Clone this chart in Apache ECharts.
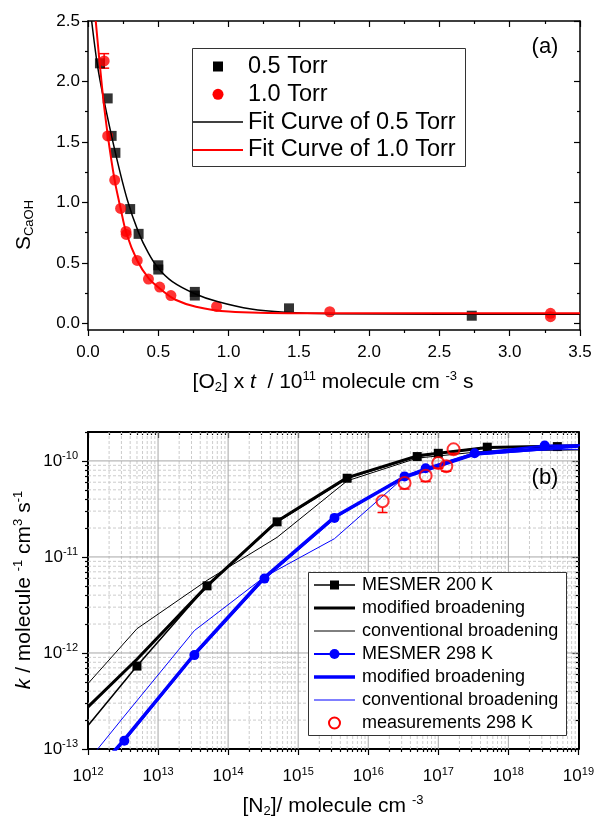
<!DOCTYPE html>
<html><head><meta charset="utf-8">
<script src="https://cdn.jsdelivr.net/npm/echarts@6/dist/echarts.min.js"></script>
<style>html,body{margin:0;padding:0;background:#fff}#c{width:597px;height:827px}</style>
</head><body><div id="c"></div>
<script>
const FONT = '"Liberation Sans", Arial, sans-serif';

// ---------- panel (a): S_CaOH vs [O2] x t ----------
const torr05 = [[0.085,2.15],[0.14,1.86],[0.168,1.55],[0.195,1.41],[0.30,0.945],[0.36,0.74],[0.50,0.48],[0.50,0.445],[0.76,0.26],[0.76,0.23],[1.43,0.124],[2.73,0.063]];
const torr10 = [[0.115,2.17],[0.14,1.55],[0.19,1.185],[0.232,0.95],[0.27,0.76],[0.272,0.735],[0.35,0.52],[0.43,0.366],[0.51,0.30],[0.59,0.23],[0.915,0.14],[1.72,0.096],[3.29,0.083],[3.29,0.055]];
const torr10Err = [[0.115,2.11,2.23]];
const fit05 = [[0.026,2.5],[0.065,2.15],[0.109,1.87],[0.195,1.41],[0.28,1.02],[0.36,0.75],[0.43,0.58],[0.5,0.455],[0.6,0.345],[0.76,0.245],[0.92,0.18],[1.16,0.118],[1.4,0.092],[1.75,0.08],[2.5,0.076],[3.5,0.076]];
const fit10 = [[0.055,2.5],[0.1,1.95],[0.14,1.56],[0.19,1.18],[0.232,0.95],[0.273,0.745],[0.35,0.52],[0.432,0.372],[0.524,0.275],[0.622,0.195],[0.768,0.138],[1.0,0.098],[1.5,0.084],[3.5,0.083]];
const xTicksA = [0,0.5,1,1.5,2,2.5,3,3.5];
const xMinorA = [0.25,0.75,1.25,1.75,2.25,2.75,3.25];
const yTicksA = [0,0.5,1,1.5,2,2.5];
const yMinorA = [0.25,0.75,1.25,1.75,2.25];
const legendA = ['0.5 Torr','1.0 Torr','Fit Curve of 0.5 Torr','Fit Curve of 1.0 Torr'];

// ---------- panel (b): k vs [N2] ----------
const mesmer200 = [[5e11,9.5e-14],[5e12,7.3e-13],[5e13,5.0e-12],[5e14,2.32e-11],[5e15,6.6e-11],[5e16,1.11e-10],[1e17,1.2e-10],[5e17,1.39e-10],[5e18,1.41e-10],[5e19,1.44e-10]];
const modified200 = [[1e12,2.75e-13],[5e12,8.6e-13],[5e13,5.0e-12],[5e14,2.35e-11],[5e15,6.7e-11],[5e16,1.13e-10],[5e17,1.38e-10],[1e19,1.44e-10]];
const conventional200 = [[1e12,4.8e-13],[5e12,1.79e-12],[5e13,5.7e-12],[5e14,1.6e-11],[5e15,6.2e-11],[5e16,1.07e-10],[5e17,1.27e-10],[1e19,1.3e-10]];
const mesmer298 = [[3.3e11,1.6e-14],[3.3e12,1.22e-13],[3.3e13,9.5e-13],[3.3e14,5.95e-12],[3.3e15,2.55e-11],[3.3e16,6.9e-11],[6.6e16,8.4e-11],[3.3e17,1.2e-10],[3.3e18,1.45e-10],[3.3e19,1.46e-10]];
const modified298 = [[1e12,4.7e-14],[3.3e12,1.25e-13],[3.3e13,9.7e-13],[3.3e14,6.1e-12],[3.3e15,2.6e-11],[3.3e16,6.8e-11],[3.3e17,1.18e-10],[1e19,1.43e-10]];
const conventional298 = [[1e12,7.5e-14],[3.3e12,2.2e-13],[3.3e13,1.71e-12],[3.3e14,6.2e-12],[3.3e15,1.55e-11],[3.3e16,6.8e-11],[3.3e17,1.15e-10],[3.3e18,1.3e-10],[1e19,1.32e-10]];
const measN = [1.6e16,3.3e16,6.6e16,1.0e17,1.3e17,1.65e17];
const measK = [3.8e-11,5.9e-11,7.0e-11,9.5e-11,8.8e-11,1.32e-10];
const measLow = [2.9e-11,5.1e-11,6.1e-11,8.4e-11,7.8e-11,1.2e-10];
const legendB = ['MESMER 200 K','modified broadening','conventional broadening','MESMER 298 K','modified broadening','conventional broadening','measurements 298 K'];
const xDecadesB = [12,13,14,15,16,17,18,19];
const yDecadesB = [-13,-12,-11,-10];
const minorMult = [2,3,4,5,6,7,8,9];
const xMinB = 1e12, xMaxB = 1e19, yMinB = 1e-13, yMaxB = 2e-10;

// tick / grid positions
const xMinorB = [], yMinorB = [], xMinorVals = [], yMinorVals = [];
xDecadesB.slice(0,-1).forEach(e => minorMult.forEach(m => { xMinorB.push(e + Math.log10(m)); xMinorVals.push(m * Math.pow(10, e)); }));
yDecadesB.forEach(e => minorMult.forEach(m => { const v = m * Math.pow(10, e); if (v <= yMaxB * 1.0001) { yMinorB.push(e + Math.log10(m)); yMinorVals.push(v); } }));
const xMajorVals = xDecadesB.slice(1,-1).map(e => Math.pow(10, e));
const yMajorVals = yDecadesB.slice(1).map(e => Math.pow(10, e));

function tickAxis(o, lineW, values, len, inside, lineShow) {
  return Object.assign({
    axisLine:{show:lineShow,onZero:false,lineStyle:{color:'#000',width:lineW}},
    axisTick:{show:true,inside:inside,length:len,customValues:values,lineStyle:{color:'#000',width:1.2}},
    axisLabel:{show:false},splitLine:{show:false}
  }, o);
}
const supRich = {
  b:{fontSize:17,fontFamily:FONT,color:'#000'},
  s:{fontSize:11,fontFamily:FONT,color:'#000',padding:[0,0,10,0]}
};
function logLabel(v) {
  const l = Math.log10(v), e = Math.round(l);
  if (Math.abs(l - e) > 1e-6) return '';
  return '{b|10}{s|' + e + '}';
}

const xAxes = [
  {type:'value',gridIndex:0,min:0,max:3.5,position:'bottom',
   axisLine:{show:true,onZero:false,lineStyle:{color:'#000',width:1.5}},
   axisTick:{show:true,length:6,customValues:xTicksA,lineStyle:{color:'#000',width:1.2}},
   axisLabel:{show:true,customValues:xTicksA,formatter:v=>v.toFixed(1),fontSize:17,color:'#000',fontFamily:FONT,margin:14},
   splitLine:{show:false}},
  tickAxis({type:'value',gridIndex:0,min:0,max:3.5,position:'bottom'},1.5,xMinorA,3,false,false),
  tickAxis({type:'value',gridIndex:0,min:0,max:3.5,position:'top'},1.5,xTicksA,6,true,true),
  tickAxis({type:'value',gridIndex:0,min:0,max:3.5,position:'top'},1.5,xMinorA,3,true,false),
  {type:'log',gridIndex:1,min:xMinB,max:xMaxB,position:'bottom',
   axisLine:{show:true,onZero:false,lineStyle:{color:'#000',width:2}},
   axisTick:{show:false},
   axisLabel:{show:true,formatter:logLabel,rich:supRich,margin:17},
   splitLine:{show:false}},
  tickAxis({type:'value',gridIndex:1,min:12,max:19,position:'bottom'},2,xDecadesB,6,false,false),
  tickAxis({type:'value',gridIndex:1,min:12,max:19,position:'bottom'},2,xMinorB,3,false,false),
  tickAxis({type:'value',gridIndex:1,min:12,max:19,position:'top'},2,xDecadesB,6,true,true),
  tickAxis({type:'value',gridIndex:1,min:12,max:19,position:'top'},2,xMinorB,3,true,false)
];
const yAxes = [
  {type:'value',gridIndex:0,min:-0.055,max:2.5,position:'left',
   axisLine:{show:true,onZero:false,lineStyle:{color:'#000',width:1.5}},
   axisTick:{show:true,length:6,customValues:yTicksA,lineStyle:{color:'#000',width:1.2}},
   axisLabel:{show:true,customValues:yTicksA,formatter:v=>v.toFixed(1),fontSize:17,color:'#000',fontFamily:FONT,margin:8},
   splitLine:{show:false}},
  tickAxis({type:'value',gridIndex:0,min:-0.055,max:2.5,position:'left'},1.5,yMinorA,3,false,false),
  tickAxis({type:'value',gridIndex:0,min:-0.055,max:2.5,position:'right'},1.5,yTicksA,6,true,true),
  tickAxis({type:'value',gridIndex:0,min:-0.055,max:2.5,position:'right'},1.5,yMinorA,3,true,false),
  {type:'log',gridIndex:1,min:yMinB,max:yMaxB,position:'left',
   axisLine:{show:true,onZero:false,lineStyle:{color:'#000',width:2}},
   axisTick:{show:false},
   axisLabel:{show:true,formatter:logLabel,rich:supRich,margin:10,showMaxLabel:false},
   splitLine:{show:false}},
  tickAxis({type:'value',gridIndex:1,min:-13,max:Math.log10(yMaxB),position:'left'},2,yDecadesB,6,false,false),
  tickAxis({type:'value',gridIndex:1,min:-13,max:Math.log10(yMaxB),position:'left'},2,yMinorB,3,false,false),
  tickAxis({type:'value',gridIndex:1,min:-13,max:Math.log10(yMaxB),position:'right'},2,yDecadesB,6,true,true),
  tickAxis({type:'value',gridIndex:1,min:-13,max:Math.log10(yMaxB),position:'right'},2,yMinorB,3,true,false)
];

function errBars(color, capHalf, upperOffset) {
  return function(params, api) {
    const x = api.value(0);
    const lo = api.coord([x, api.value(1)]);
    const hi = api.coord([x, api.value(2)]);
    const st = {stroke:color, lineWidth:1.5};
    const ch = [
      {type:'line', shape:{x1:lo[0],y1:lo[1],x2:hi[0],y2:hi[1] + upperOffset}, style:st},
      {type:'line', shape:{x1:lo[0]-capHalf,y1:lo[1],x2:lo[0]+capHalf,y2:lo[1]}, style:st}
    ];
    if (upperOffset === 0) ch.push({type:'line', shape:{x1:hi[0]-capHalf,y1:hi[1],x2:hi[0]+capHalf,y2:hi[1]}, style:st});
    return {type:'group', children:ch};
  };
}
function gridLine(vertical, style) {
  return function(params, api) {
    let a, b;
    if (vertical) { const v = api.value(0); a = api.coord([v, yMinB]); b = api.coord([v, yMaxB]); }
    else { const v = api.value(1); a = api.coord([xMinB, v]); b = api.coord([xMaxB, v]); }
    return {type:'line', shape:{x1:a[0],y1:a[1],x2:b[0],y2:b[1]}, style:Object.assign({}, style), silent:true};
  };
}
const minorStyle = {stroke:'#cccccc', lineWidth:1, lineDash:[3,2]};
const majorStyle = {stroke:'#a6a6a6', lineWidth:1};

const measData = measN.map((n,i)=>[n, measK[i]]);
const measErrData = measN.map((n,i)=>[n, measLow[i], measK[i]]);

const series = [
  // ---- panel a ----
  {name:legendA[0],type:'scatter',xAxisIndex:0,yAxisIndex:0,data:torr05,symbol:'rect',symbolSize:10,itemStyle:{color:'#000'},z:3},
  {type:'custom',xAxisIndex:0,yAxisIndex:0,data:torr10Err,encode:{x:0,y:[1,2]},renderItem:errBars('#ff0000',5,0),z:3},
  {name:legendA[1],type:'scatter',xAxisIndex:0,yAxisIndex:0,data:torr10,symbol:'circle',symbolSize:11,itemStyle:{color:'#ff0000'},z:4},
  {name:legendA[2],type:'line',xAxisIndex:0,yAxisIndex:0,data:fit05,symbol:'none',smooth:0.3,lineStyle:{color:'#000',width:1.5},clip:true,z:5},
  {name:legendA[3],type:'line',xAxisIndex:0,yAxisIndex:0,data:fit10,symbol:'none',smooth:0.3,lineStyle:{color:'#ff0000',width:2},clip:true,z:6},
  // ---- panel b: grid lines ----
  {type:'custom',xAxisIndex:4,yAxisIndex:4,data:xMinorVals.map(v=>[v,yMinB]),encode:{x:0,y:1},renderItem:gridLine(true,minorStyle),z:1,silent:true},
  {type:'custom',xAxisIndex:4,yAxisIndex:4,data:yMinorVals.filter(v=>v<yMaxB*0.999).map(v=>[xMinB,v]),encode:{x:0,y:1},renderItem:gridLine(false,minorStyle),z:1,silent:true},
  {type:'custom',xAxisIndex:4,yAxisIndex:4,data:xMajorVals.map(v=>[v,yMinB]),encode:{x:0,y:1},renderItem:gridLine(true,majorStyle),z:1,silent:true},
  {type:'custom',xAxisIndex:4,yAxisIndex:4,data:yMajorVals.map(v=>[xMinB,v]),encode:{x:0,y:1},renderItem:gridLine(false,majorStyle),z:1,silent:true},
  // ---- panel b: series ----
  {name:legendB[0],type:'line',xAxisIndex:4,yAxisIndex:4,data:mesmer200,symbol:'rect',symbolSize:9,showAllSymbol:true,lineStyle:{color:'#000',width:1.5},itemStyle:{color:'#000'},clip:true,z:3},
  {name:legendB[1],type:'line',xAxisIndex:4,yAxisIndex:4,data:modified200,symbol:'none',lineStyle:{color:'#000',width:3},clip:true,z:3},
  {name:legendB[2],type:'line',xAxisIndex:4,yAxisIndex:4,data:conventional200,symbol:'none',lineStyle:{color:'#000',width:1},clip:true,z:3},
  {name:legendB[3],type:'line',xAxisIndex:4,yAxisIndex:4,data:mesmer298,symbol:'circle',symbolSize:10,showAllSymbol:true,lineStyle:{color:'#0000ff',width:2},itemStyle:{color:'#0000ff'},clip:true,z:4},
  {name:legendB[4],type:'line',xAxisIndex:4,yAxisIndex:4,data:modified298,symbol:'none',lineStyle:{color:'#0000ff',width:3.5},clip:true,z:4},
  {name:legendB[5],type:'line',xAxisIndex:4,yAxisIndex:4,data:conventional298,symbol:'none',lineStyle:{color:'#0000ff',width:1},clip:true,z:4},
  {type:'custom',xAxisIndex:4,yAxisIndex:4,data:measErrData,encode:{x:0,y:[1,2]},renderItem:errBars('#ff0000',5,6),z:5},
  {name:legendB[6],type:'scatter',xAxisIndex:4,yAxisIndex:4,data:measData,symbol:'circle',symbolSize:12,itemStyle:{color:'rgba(255,255,255,0)',borderColor:'#ff0000',borderWidth:2},z:5}
];

// ---------- legends (drawn as graphic boxes, above the plot) ----------
function legendBox(x0, y0, w, h, rows, lineX0, lineX1, textX, rowY0, rowStep, fontSize) {
  const Z = 100;
  const ch = [{type:'rect',z:Z,shape:{x:x0,y:y0,width:w,height:h},style:{fill:'#fff',stroke:'#333',lineWidth:1}}];
  const mid = (lineX0 + lineX1) / 2;
  rows.forEach((r, i) => {
    const y = rowY0 + i * rowStep;
    if (r.lw) ch.push({type:'line',z:Z+1,shape:{x1:lineX0,y1:y,x2:lineX1,y2:y},style:{stroke:r.color,lineWidth:r.lw}});
    if (r.sym === 'rect') ch.push({type:'rect',z:Z+2,shape:{x:mid-r.size/2,y:y-r.size/2,width:r.size,height:r.size},style:{fill:r.color}});
    if (r.sym === 'circle') ch.push({type:'circle',z:Z+2,shape:{cx:mid,cy:y,r:r.size/2},style:{fill:r.color}});
    if (r.sym === 'ring') ch.push({type:'circle',z:Z+2,shape:{cx:mid,cy:y,r:r.size/2},style:{fill:'none',stroke:r.color,lineWidth:2}});
    ch.push({type:'text',z:Z+2,x:textX,y:y,style:{text:r.text,font:fontSize+'px '+FONT,fill:'#000',align:'left',verticalAlign:'middle'}});
  });
  return {type:'group',z:Z,children:ch};
}
const legendARows = [
  {text:legendA[0],sym:'rect',size:10,color:'#000'},
  {text:legendA[1],sym:'circle',size:11,color:'#ff0000'},
  {text:legendA[2],lw:1.5,color:'#000'},
  {text:legendA[3],lw:2,color:'#ff0000'}
];
const legendBRows = [
  {text:legendB[0],lw:1.5,sym:'rect',size:9,color:'#000'},
  {text:legendB[1],lw:3,color:'#000'},
  {text:legendB[2],lw:1,color:'#000'},
  {text:legendB[3],lw:2,sym:'circle',size:10,color:'#0000ff'},
  {text:legendB[4],lw:3.5,color:'#0000ff'},
  {text:legendB[5],lw:1,color:'#0000ff'},
  {text:legendB[6],sym:'ring',size:11,color:'#ff0000'}
];

const option = {
  animation:false,
  backgroundColor:'#fff',
  textStyle:{fontFamily:FONT},
  grid:[
    {left:88,top:21,width:492,height:309,containLabel:false},
    {left:88,top:432,width:491,height:317,containLabel:false}
  ],
  xAxis:xAxes,
  yAxis:yAxes,
  graphic:[
    legendBox(192.5, 48.5, 273, 118, legendARows, 193, 243, 248, 66.5, 27.8, 23.5),
    legendBox(308.5, 572.5, 258, 163, legendBRows, 314, 355, 362, 585, 23, 18),
    {type:'text',x:545,y:47,style:{text:'(a)',font:'22px '+FONT,fill:'#000',align:'center',verticalAlign:'middle'}},
    {type:'text',x:545,y:478,z:100,style:{text:'(b)',font:'22px '+FONT,fill:'#000',align:'center',verticalAlign:'middle'}},
    {type:'text',x:333,y:382,style:{
      text:'{n|[O}{sub|2}{n|] x }{i|t}{n|  / 10}{sup|11}{n| molecule cm }{sup|-3}{n| s}',
      align:'center',verticalAlign:'middle',
      rich:{n:{fontSize:21,fontFamily:FONT,fill:'#000'},i:{fontSize:21,fontFamily:FONT,fontStyle:'italic',fill:'#000'},
            sub:{fontSize:13,fontFamily:FONT,fill:'#000',padding:[10,0,0,0]},sup:{fontSize:13,fontFamily:FONT,fill:'#000',padding:[0,0,12,0]}}}},
    {type:'text',x:333,y:806,style:{
      text:'{n|[N}{sub|2}{n|]/ molecule cm }{sup|-3}',
      align:'center',verticalAlign:'middle',
      rich:{n:{fontSize:21,fontFamily:FONT,fill:'#000'},
            sub:{fontSize:13,fontFamily:FONT,fill:'#000',padding:[10,0,0,0]},sup:{fontSize:13,fontFamily:FONT,fill:'#000',padding:[0,0,12,0]}}}},
    {type:'text',x:24,y:225,rotation:Math.PI/2,style:{
      text:'{n|S}{sub|CaOH}',
      align:'center',verticalAlign:'middle',
      rich:{n:{fontSize:21,fontFamily:FONT,fill:'#000'},sub:{fontSize:13,fontFamily:FONT,fill:'#000',padding:[10,0,0,0]}}}},
    {type:'text',x:24,y:590,rotation:Math.PI/2,style:{
      text:'{i|k}{n| / molecule }{sup|-1}{n| cm}{sup|3}{n| s}{sup|-1}',
      align:'center',verticalAlign:'middle',
      rich:{n:{fontSize:21,fontFamily:FONT,fill:'#000'},i:{fontSize:21,fontFamily:FONT,fontStyle:'italic',fill:'#000'},
            sup:{fontSize:13,fontFamily:FONT,fill:'#000',padding:[0,0,12,0]}}}}
  ],
  series:series
};
const chart = echarts.init(document.getElementById('c'), null, {renderer:'canvas'});
chart.setOption(option);
</script></body></html>
